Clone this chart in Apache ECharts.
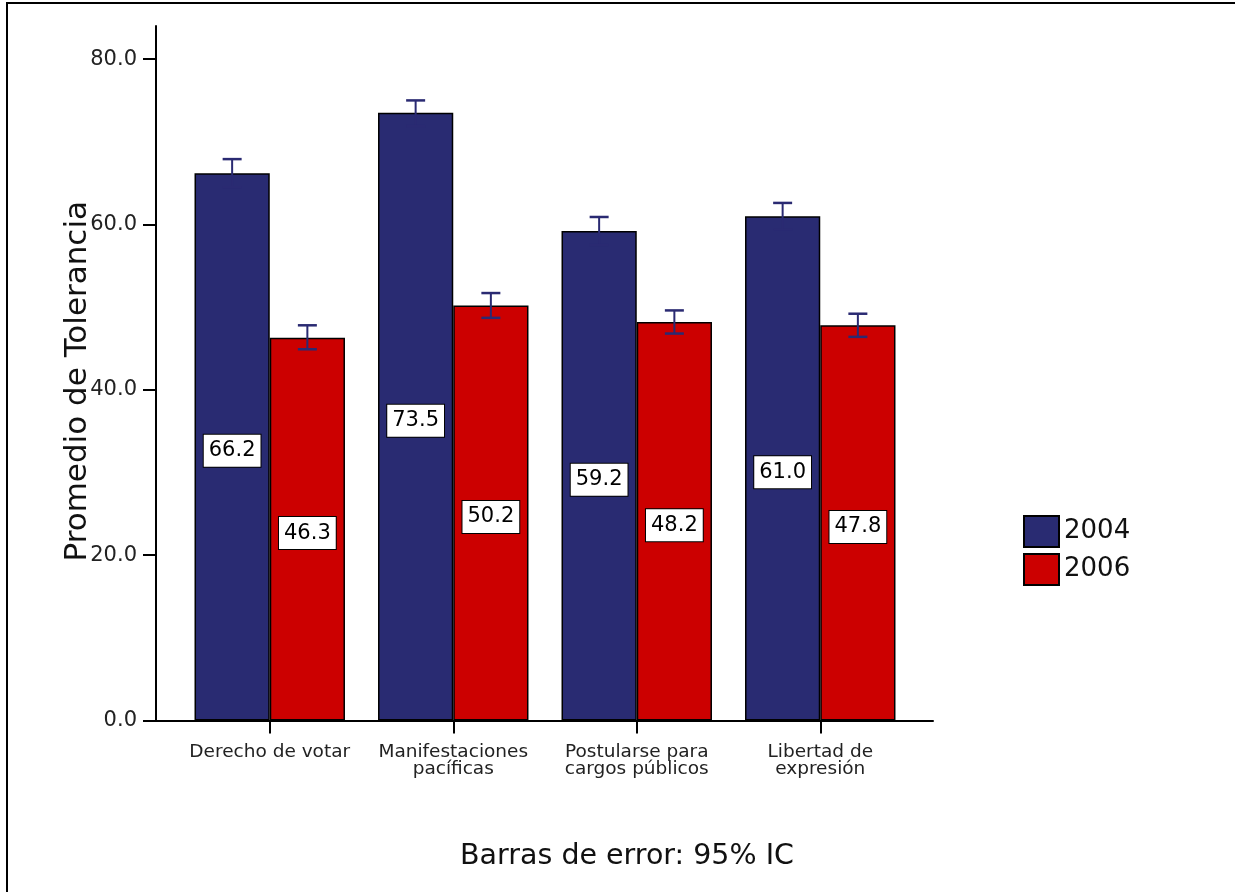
<!DOCTYPE html>
<html><head><meta charset="utf-8">
<script src="https://cdn.jsdelivr.net/npm/echarts@6/dist/echarts.min.js"></script>
<style>html,body{margin:0;padding:0;background:#fff}#c{width:1235px;height:892px}</style>
</head><body><div id="c"></div>
<script>
const categories = ['Derecho de votar', 'Manifestaciones\npacíficas', 'Postularse para\ncargos públicos', 'Libertad de\nexpresión'];
const seriesNames = ['2004', '2006'];
const mean2004 = [66.2, 73.5, 59.2, 61.0];
const mean2006 = [46.3, 50.2, 48.2, 47.8];
const low2004 = [64.5, 71.9, 57.5, 59.4];
const high2004 = [67.9, 75.0, 60.9, 62.6];
const low2006 = [44.9, 48.7, 46.8, 46.4];
const high2006 = [47.8, 51.7, 49.6, 49.2];
const yTicks = [0, 20, 40, 60, 80];
const yTitle = 'Promedio de Tolerancia';
const footnote = 'Barras de error: 95% IC';

const FONT = 'DejaVu Sans';
const BLUE = '#292B72';
const RED = '#CC0000';
const ERR = '#2A2A72';
const GAPFRAC = 0.18;

const errData = [];
for (let i = 0; i < categories.length; i++) {
  errData.push([i, low2004[i], high2004[i], 0]);
  errData.push([i, low2006[i], high2006[i], 1]);
}

function renderErr(params, api) {
  const i = api.value(0), lo = api.value(1), hi = api.value(2), s = api.value(3);
  const band = api.size([1, 0])[0];
  const barW = band * (1 - GAPFRAC) / 2;
  const off = (s === 0 ? -1 : 1) * barW / 2;
  const pLo = api.coord([i, lo]);
  const pHi = api.coord([i, hi]);
  const x = pLo[0] + off;
  const cap = 9.5;
  const st = { stroke: ERR, lineWidth: 2.5 };
  return {
    type: 'group',
    children: [
      { type: 'line', shape: { x1: x, y1: pHi[1], x2: x, y2: pLo[1] }, style: { stroke: ERR, lineWidth: 2 } },
      { type: 'line', shape: { x1: x - cap, y1: pHi[1], x2: x + cap, y2: pHi[1] }, style: st },
      { type: 'line', shape: { x1: x - cap, y1: pLo[1], x2: x + cap, y2: pLo[1] }, style: st }
    ]
  };
}

const labelStyle = {
  show: true,
  position: 'inside',
  offset: [0, 4],
  formatter: p => p.value.toFixed(1),
  backgroundColor: '#fff',
  borderColor: '#000',
  borderWidth: 1,
  padding: [6, 5, 5, 5],
  fontSize: 21,
  fontFamily: FONT,
  color: '#000'
};

const chart = echarts.init(document.getElementById('c'), null, { renderer: 'canvas' });
chart.setOption({
  backgroundColor: '#fff',
  animation: false,
  textStyle: { fontFamily: FONT },
  grid: [
    { left: 156, right: 302, top: 26, bottom: 171.5 },
    { left: 178, right: 323, top: 26, bottom: 171.5 }
  ],
  xAxis: [
    { gridIndex: 0, type: 'value', min: 0, max: 1,
      axisLine: { show: true, onZero: false, lineStyle: { color: '#000', width: 2 } },
      axisTick: { show: false }, axisLabel: { show: false }, splitLine: { show: false } },
    { gridIndex: 1, type: 'category', data: categories,
      axisLine: { show: false },
      axisTick: { show: true, alignWithLabel: true, length: 13, lineStyle: { color: '#000', width: 2 } },
      axisLabel: { margin: 23, fontSize: 18.5, lineHeight: 17, color: '#222', fontFamily: FONT, interval: 0 },
      splitLine: { show: false } }
  ],
  yAxis: [
    { gridIndex: 0, type: 'value', min: 0, max: 84,
      axisLine: { show: true, onZero: false, lineStyle: { color: '#000', width: 2 } },
      axisTick: { show: true, length: 13, customValues: yTicks, lineStyle: { color: '#000', width: 2 } },
      axisLabel: { customValues: yTicks, formatter: v => v.toFixed(1), margin: 19, fontSize: 21, color: '#222', fontFamily: FONT },
      splitLine: { show: false },
      name: yTitle, nameLocation: 'middle', nameRotate: 90, nameGap: 63, nameMoveOverlap: false,
      nameTextStyle: { fontSize: 31, color: '#111', fontFamily: FONT, padding: [0, 16, 0, 0] } },
    { gridIndex: 1, type: 'value', min: 0, max: 84, show: false }
  ],
  legend: {
    data: seriesNames, orient: 'vertical', left: 1018, top: 510,
    itemWidth: 35, itemHeight: 31, itemGap: 5, icon: 'rect',
    textStyle: { fontSize: 26, color: '#111', fontFamily: FONT }
  },
  series: [
    { name: seriesNames[0], type: 'bar', xAxisIndex: 1, yAxisIndex: 1, data: mean2004,
      barCategoryGap: (GAPFRAC * 100) + '%', barGap: 0,
      itemStyle: { color: BLUE, borderColor: '#000', borderWidth: 1.5 },
      label: labelStyle },
    { name: seriesNames[1], type: 'bar', xAxisIndex: 1, yAxisIndex: 1, data: mean2006,
      barCategoryGap: (GAPFRAC * 100) + '%', barGap: 0,
      itemStyle: { color: RED, borderColor: '#000', borderWidth: 1.5 },
      label: labelStyle },
    { type: 'custom', xAxisIndex: 1, yAxisIndex: 1, data: errData, renderItem: renderErr,
      encode: { x: 0, y: [1, 2] }, z: 5, silent: true }
  ],
  graphic: [
    { type: 'rect', shape: { x: 7, y: 3, width: 1300, height: 1000 },
      style: { fill: 'none', stroke: '#000', lineWidth: 2 }, silent: true },
    { type: 'text', x: 627, y: 857,
      style: { text: footnote, fontSize: 28.5, fill: '#111', fontFamily: FONT, textAlign: 'center', textVerticalAlign: 'middle' } }
  ]
});
</script>
</body></html>
